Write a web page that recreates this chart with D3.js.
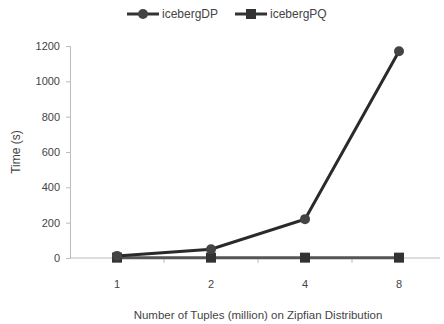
<!DOCTYPE html>
<html><head><meta charset="utf-8">
<script src="https://cdn.jsdelivr.net/npm/d3@7"></script>
<style>body{margin:0;background:#fff}svg{display:block}text{font-family:"Liberation Sans",Arial,sans-serif;fill:#444}</style>
</head><body><svg id="c" width="444" height="324"></svg>
<script>
const categories = ["1","2","4","8"];
const seriesNames = ["icebergDP","icebergPQ"];
const icebergDP = [12, 50, 220, 1170];
const icebergPQ = [2, 2, 2, 2];
const yTicks = [0,200,400,600,800,1000,1200];

const svg = d3.select("#c");
const x = d3.scaleBand().domain(categories).range([70,446]);
const y = d3.scaleLinear().domain([0,1200]).range([258,46]);

// y axis
const ya = svg.append("g").attr("transform","translate(70,0)")
  .call(d3.axisLeft(y).tickValues(yTicks).tickFormat(d3.format("d")).tickSize(4).tickPadding(6));
ya.select(".domain").attr("stroke","#bbb");
ya.selectAll(".tick line").attr("stroke","#bbb");
ya.selectAll(".tick text").style("font-size","11px").attr("fill","#444");

// x axis
const xa = svg.append("g").attr("transform","translate(0,258)")
  .call(d3.axisBottom(x).tickSize(0).tickPadding(22));
xa.select(".domain").attr("stroke","#bbb").attr("d","M70,0H440");
xa.selectAll(".tick text").style("font-size","11px").attr("fill","#444");
// ticks between categories
svg.append("g").selectAll("line").data(categories.slice(1)).join("line")
  .attr("x1",d=>x(d)).attr("x2",d=>x(d)).attr("y1",258).attr("y2",263).attr("stroke","#bbb");

// titles
svg.append("text").attr("transform","translate(20,152) rotate(-90)").attr("text-anchor","middle")
  .style("font-size","12px").text("Time (s)");
svg.append("text").attr("x",258).attr("y",319).attr("text-anchor","middle")
  .style("font-size","11.5px").text("Number of Tuples (million) on Zipfian Distribution");

const cx = d => x(d)+x.bandwidth()/2;
const line = d3.line().x((d,i)=>cx(categories[i])).y(d=>y(d));

// PQ series
svg.append("path").datum(icebergPQ).attr("d",line).attr("fill","none").attr("stroke","#555").attr("stroke-width",3);
svg.append("g").selectAll("rect").data(icebergPQ).join("rect")
  .attr("x",(d,i)=>cx(categories[i])-5).attr("y",d=>y(d)-5).attr("width",10).attr("height",10)
  .attr("fill","#333");
// DP series
svg.append("path").datum(icebergDP).attr("d",line).attr("fill","none").attr("stroke","#2a2a2a").attr("stroke-width",3);
svg.append("g").selectAll("circle").data(icebergDP).join("circle")
  .attr("cx",(d,i)=>cx(categories[i])).attr("cy",d=>y(d)).attr("r",5).attr("fill","#444");

// legend
const lg = svg.append("g");
const items = [{name:seriesNames[0],x:127,shape:"circle"},{name:seriesNames[1],x:235,shape:"rect"}];
items.forEach(it=>{
  lg.append("line").attr("x1",it.x).attr("x2",it.x+32).attr("y1",14).attr("y2",14).attr("stroke","#333").attr("stroke-width",3);
  if(it.shape==="circle") lg.append("circle").attr("cx",it.x+16).attr("cy",14).attr("r",5).attr("fill","#444");
  else lg.append("rect").attr("x",it.x+11).attr("y",9).attr("width",10).attr("height",10).attr("fill","#333");
  lg.append("text").attr("x",it.x+35).attr("y",18).style("font-size","12px").text(it.name);
});
</script></body></html>
